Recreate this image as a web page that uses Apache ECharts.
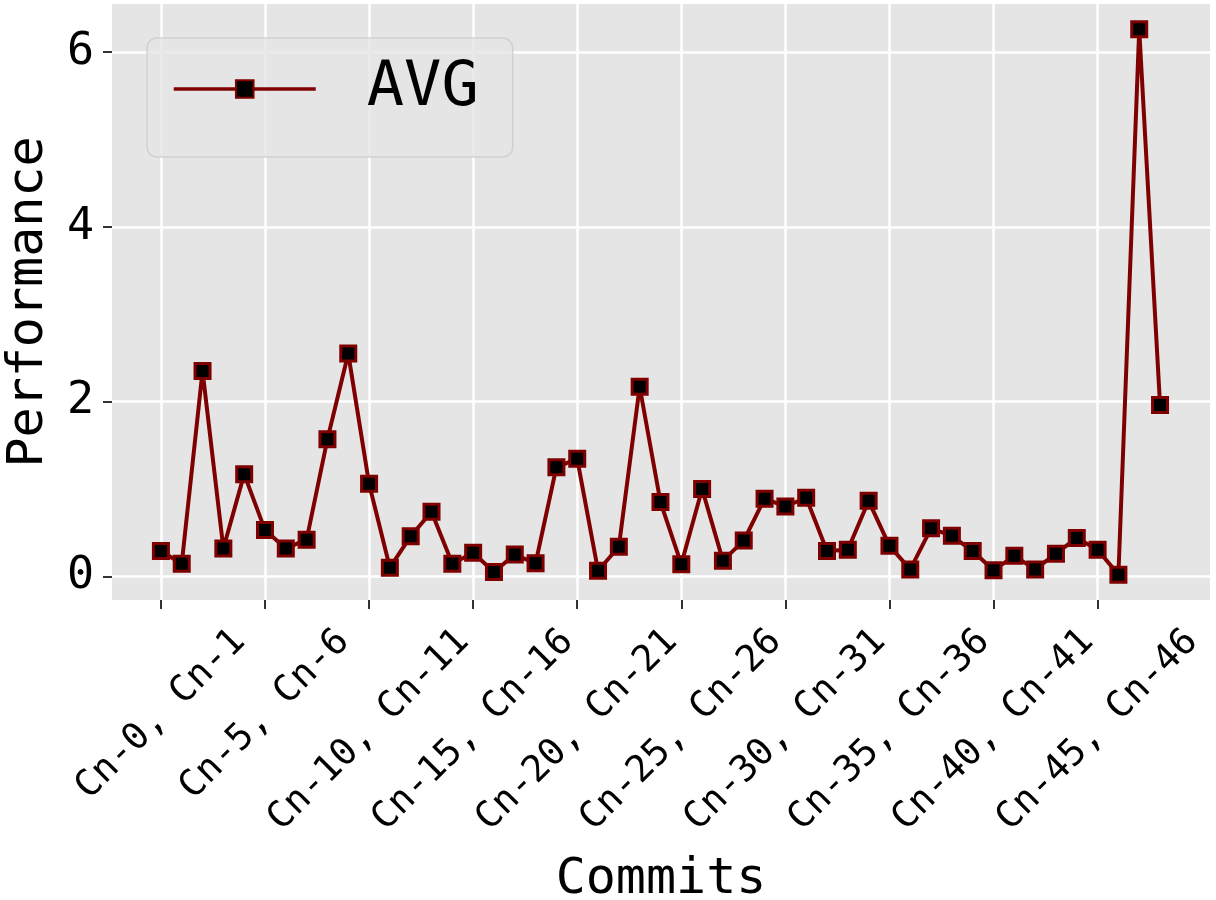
<!DOCTYPE html>
<html>
<head>
<meta charset="utf-8">
<script src="https://cdn.jsdelivr.net/npm/echarts@6/dist/echarts.min.js"></script>
<style>
html,body{margin:0;padding:0;background:#fff;}
#c{width:1216px;height:900px;}
</style>
</head>
<body>
<div id="c"></div>
<script>
// ---- data ----
var seriesName = 'AVG';
var avgValues = [0.29, 0.145, 2.35, 0.32, 1.17, 0.53, 0.32, 0.42, 1.57, 2.55,
                 1.06, 0.10, 0.46, 0.74, 0.145, 0.27, 0.05, 0.25, 0.15, 1.25,
                 1.345, 0.065, 0.34, 2.17, 0.85, 0.14, 1.00, 0.18, 0.41, 0.89,
                 0.80, 0.90, 0.29, 0.305, 0.865, 0.35, 0.08, 0.55, 0.465, 0.29,
                 0.07, 0.235, 0.08, 0.26, 0.44, 0.305, 0.02, 6.26, 1.96];
var xTickValues = [0, 5, 10, 15, 20, 25, 30, 35, 40, 45];
var xTickLabels = ['Cn-0, Cn-1', 'Cn-5, Cn-6', 'Cn-10, Cn-11', 'Cn-15, Cn-16',
                   'Cn-20, Cn-21', 'Cn-25, Cn-26', 'Cn-30, Cn-31', 'Cn-35, Cn-36',
                   'Cn-40, Cn-41', 'Cn-45, Cn-46'];
var yTickValues = [0, 2, 4, 6];
var xAxisName = 'Commits';
var yAxisName = 'Performance';

// ---- layout ----
var FONT = 'DejaVu Sans Mono';
var gridLeft = 112, gridRight = 6, gridTop = 4, gridBottom = 300;
var xMin = -2.35, xMax = 50.4, yMin = -0.27, yMax = 6.55;
var xFont = 37;
var pxPerX = (1216 - gridLeft - gridRight) / (xMax - xMin);
// matplotlib centres the rotated label on the tick; echarts anchors its right end
var xLabelPos = xTickLabels.map(function (t, i) {
  var L = t.length * 0.602 * xFont;
  return xTickValues[i] + (L / (2 * Math.SQRT2)) / pxPerX;
});

var points = avgValues.map(function (v, i) { return [i, v]; });

var chart = echarts.init(document.getElementById('c'));
chart.setOption({
  backgroundColor: '#ffffff',
  animation: false,
  grid: { left: gridLeft, right: gridRight, top: gridTop, bottom: gridBottom,
          containLabel: false, outerBoundsMode: 'none',
          show: true, backgroundColor: '#E5E5E5', borderWidth: 0 },
  legend: {
    show: true,
    left: 147, top: 38,
    orient: 'vertical',
    padding: [20, 34, 37, 25],
    itemWidth: 142, itemHeight: 22,
    backgroundColor: 'rgba(229,229,229,0.8)',
    borderColor: 'rgba(204,204,204,0.8)',
    borderWidth: 1.5,
    borderRadius: 10,
    lineStyle: { width: 3.5 },
    textStyle: { fontFamily: FONT, fontSize: 62, color: '#000', padding: [0, 0, 0, 46] },
    data: [seriesName]
  },
  xAxis: [{
    type: 'value', min: xMin, max: xMax,
    axisLine: { show: false, onZero: false },
    axisTick: { show: true, customValues: xTickValues, length: 9, lineStyle: { color: '#333', width: 2 } },
    axisLabel: { show: false },
    splitLine: { show: true, lineStyle: { color: '#ffffff', width: 2.5 } }
  }, {
    type: 'value', min: xMin, max: xMax, position: 'bottom', gridIndex: 0,
    axisLine: { show: false, onZero: false }, axisTick: { show: false }, splitLine: { show: false },
    axisLabel: {
      show: true, customValues: xLabelPos, rotate: 45, margin: 36,
      align: 'right', verticalAlign: 'middle',
      fontFamily: FONT, fontSize: xFont, color: '#000',
      formatter: function (v) {
        for (var i = 0; i < xLabelPos.length; i++) {
          if (Math.abs(xLabelPos[i] - v) < 1e-6) return xTickLabels[i];
        }
        return '';
      }
    },
    name: xAxisName, nameLocation: 'middle', nameGap: 255,
    nameTextStyle: { fontFamily: FONT, fontSize: 50, color: '#000' }
  }],
  yAxis: {
    type: 'value', min: yMin, max: yMax,
    axisLine: { show: false, onZero: false },
    axisTick: { show: true, customValues: yTickValues, length: 9, lineStyle: { color: '#333', width: 2 } },
    axisLabel: { show: true, customValues: yTickValues, margin: 18, fontFamily: FONT, fontSize: 45, color: '#000' },
    splitLine: { show: true, lineStyle: { color: '#ffffff', width: 2.5 } },
    name: yAxisName, nameLocation: 'middle', nameGap: 58,
    nameTextStyle: { fontFamily: FONT, fontSize: 50, color: '#000' }
  },
  series: [{
    name: seriesName,
    type: 'line',
    data: points,
    symbol: 'rect',
    symbolSize: 15,
    lineStyle: { color: '#7f0000', width: 4 },
    itemStyle: { color: '#000000', borderColor: '#7f0000', borderWidth: 3 },
    z: 3
  }]
});
</script>
</body>
</html>
